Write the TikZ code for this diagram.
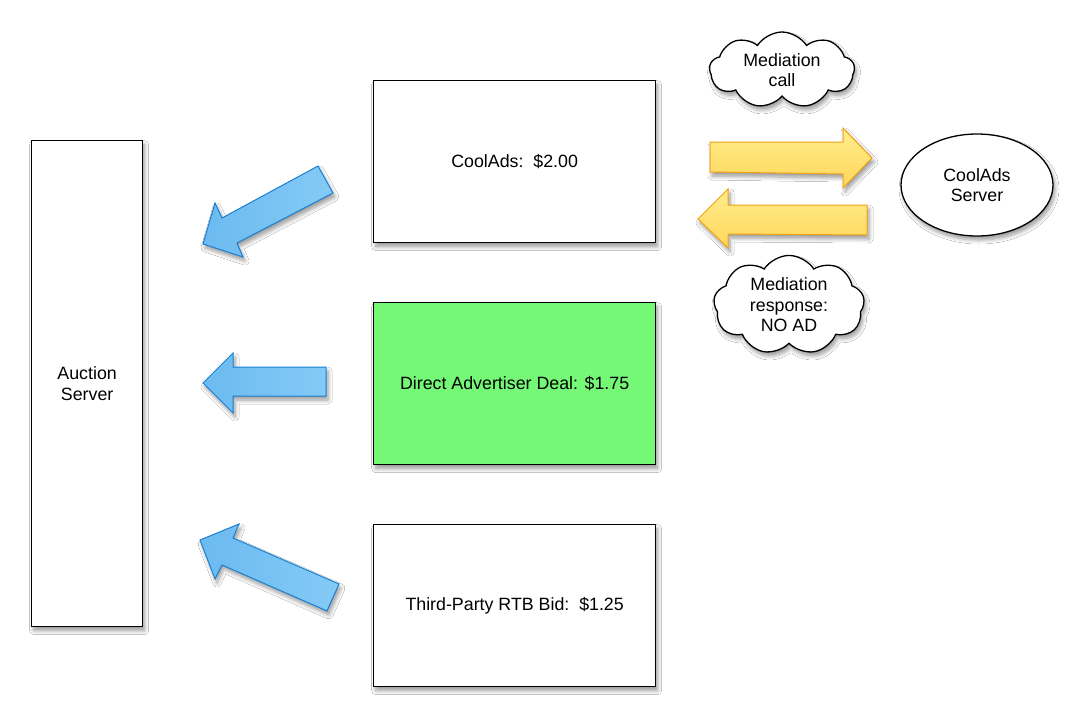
\documentclass[tikz,border=0pt]{standalone}
\usepackage{fontspec}
\setmainfont{Liberation Sans}
\usetikzlibrary{shapes.geometric,shapes.symbols,shadows.blur}
\definecolor{boxgreen}{RGB}{117,248,118}
\definecolor{bluefillA}{RGB}{108,186,240}
\definecolor{bluefillB}{RGB}{132,202,246}
\definecolor{blueedge}{RGB}{25,128,210}
\definecolor{yelA}{RGB}{255,214,90}
\definecolor{yelB}{RGB}{255,238,140}
\definecolor{yeledge}{RGB}{242,160,20}
\tikzset{
  sh/.style={blur shadow={shadow xshift=2pt,shadow yshift=-4pt,shadow blur steps=6,shadow opacity=40,shadow blur radius=4pt}},
  box/.style={draw=black,line width=1.3pt,fill=white,minimum width=282pt,minimum height=162pt,anchor=north west,inner sep=0pt,align=center,sh},
  bluearrow/.style={draw=blueedge,line width=1pt,left color=bluefillA,right color=bluefillB,sh},
  yelarrow/.style={draw=yeledge,line width=1pt,top color=yelB,bottom color=yelA,sh},
  cloudnode/.style={cloud,cloud puffs=9,cloud puff arc=115,aspect=1.9,draw=black,line width=1.3pt,fill=white,align=center,inner sep=0pt,sh},
  txt/.style={font=\fontsize{17.8}{20.5}\selectfont}
}
\begin{document}
\begin{tikzpicture}[x=1pt,y=-1pt,txt]
\fill[white] (0,0) rectangle (1083,721);
\useasboundingbox (0,0) rectangle (1083,721);
% boxes
\node[box,minimum width=111pt,minimum height=486pt] (auction) at (31,140) {Auction\\Server};
\node[box] (coolads) at (373,80) {CoolAds:\ \ \$2.00};
\node[box,fill=boxgreen] (direct) at (373,302) {Direct Advertiser Deal: \$1.75};
\node[box] (rtb) at (373,524) {Third-Party RTB Bid:\ \ \$1.25};
\node[ellipse,draw=black,line width=1.3pt,fill=white,minimum width=152pt,minimum height=102pt,align=center,sh] (server) at (977,185) {CoolAds\\Server};
\node[cloudnode,minimum width=145pt,minimum height=76pt] (callcloud) at (782,70) {Mediation\\call};
\node[cloudnode,minimum width=145pt,minimum height=82pt] (respcloud) at (789,305) {Mediation\\response:\\NO AD};
% blue arrows
\draw[bluearrow] (203,244) -- (215,203) -- (222,218) -- (318,166) -- (333,193) -- (237,243) -- (243,257) -- cycle;
\draw[bluearrow] (203,383) -- (233,353) -- (233,367) -- (326,367) -- (326,396) -- (233,396) -- (233,413) -- cycle;
\draw[bluearrow] (200,540) -- (239,524) -- (233,538) -- (339,584) -- (327,611) -- (222,565) -- (215,579) -- cycle;
% yellow arrows
\draw[yelarrow] (872,158) -- (843,128) -- (843,142) -- (710,142) -- (710,172) -- (843,174) -- (843,188) -- cycle;
\draw[yelarrow] (698,219) -- (728,189) -- (728,205) -- (867,205) -- (867,235) -- (728,234) -- (728,248) -- cycle;
\end{tikzpicture}
\end{document}
